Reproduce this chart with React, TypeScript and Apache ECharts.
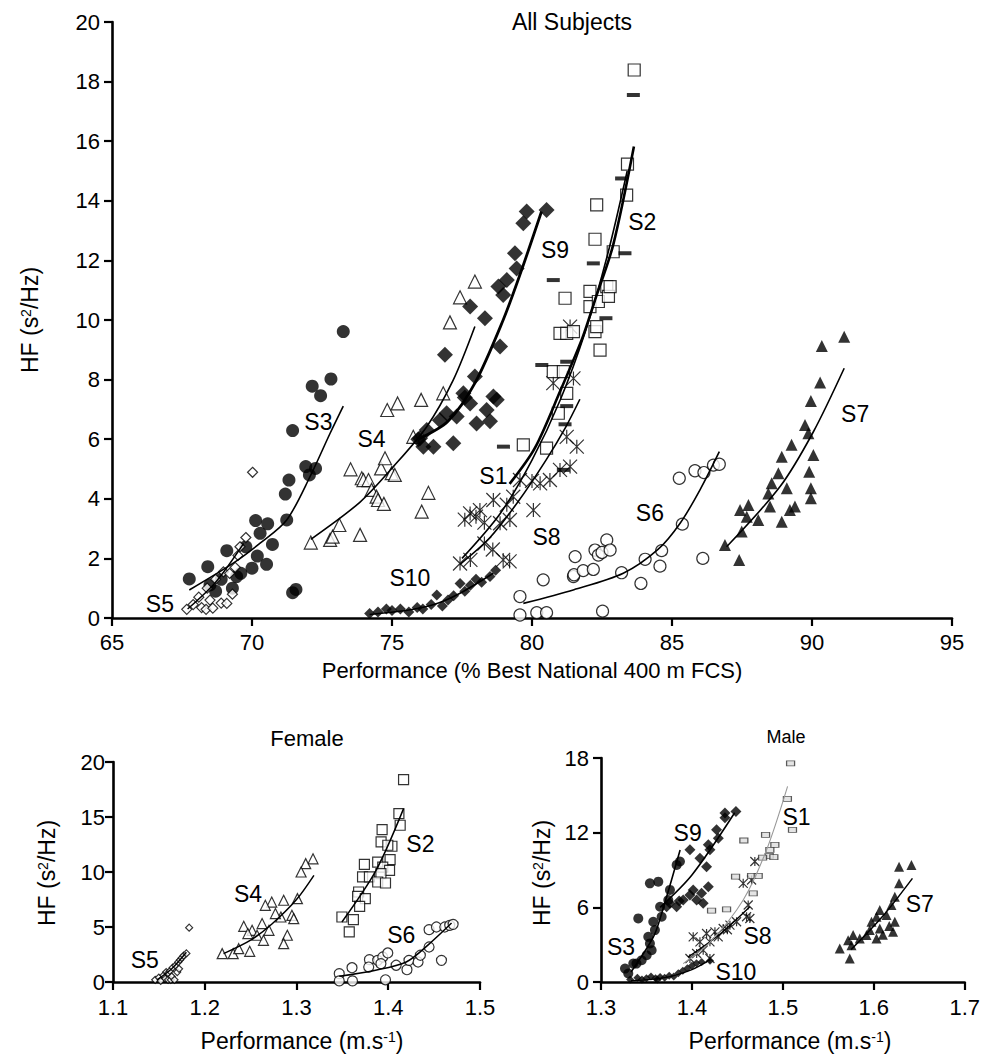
import React, { useEffect, useRef } from 'react';
import * as echarts from 'echarts';

const FONT = "'Liberation Sans', Arial, Helvetica, sans-serif";

// ---------------- All Subjects (x: % best national 400 m FCS, y: HF s2/Hz)
const ALL_S3 = [[67.76,1.31],[68.42,1.72],[68.5,1.11],[68.7,0.9],[68.9,1.3],[69.1,2.26],[69.3,1.0],[69.45,1.39],[69.6,1.5],[69.78,2.39],[70.0,1.67],[70.13,3.27],[70.19,2.08],[70.29,2.84],[70.52,1.8],[70.56,3.16],[70.73,2.47],[71.19,4.16],[71.24,3.29],[71.32,4.63],[71.45,6.29],[71.45,0.85],[71.57,0.96],[71.92,5.08],[72.05,4.8],[72.27,5.02],[72.15,7.78],[72.45,7.46],[72.82,8.02],[73.26,9.61]];
const ALL_S5 = [[67.67,0.29],[67.9,0.45],[68.1,0.7],[68.2,0.35],[68.36,0.29],[68.4,1.0],[68.5,0.6],[68.6,0.33],[68.7,1.3],[68.9,0.5],[68.98,1.55],[69.1,0.49],[69.2,1.5],[69.3,0.8],[69.4,1.7],[69.5,2.1],[69.57,2.39],[69.78,2.7],[70.02,4.89]];
const ALL_S4 = [[72.1,2.53],[72.79,2.62],[72.88,2.73],[73.12,3.12],[73.52,4.99],[73.86,2.79],[73.92,4.69],[73.98,4.63],[74.16,4.63],[74.27,4.3],[74.45,4.07],[74.5,3.96],[74.61,5.02],[74.71,3.83],[74.75,5.36],[74.83,6.98],[74.99,4.86],[75.1,4.8],[75.2,7.2],[75.76,6.08],[76.04,7.32],[76.06,3.57],[76.3,4.2],[76.83,7.54],[77.07,9.92],[77.43,10.76],[77.96,11.29]];
const ALL_S9 = [[75.94,6.0],[76.0,6.03],[76.12,5.75],[76.24,6.31],[76.48,5.75],[76.71,6.64],[76.89,8.83],[76.95,6.87],[77.19,5.86],[77.31,6.76],[77.55,7.54],[77.6,7.4],[77.79,7.2],[77.79,10.45],[77.96,8.1],[78.02,6.53],[78.32,10.06],[78.38,6.98],[78.5,6.6],[78.62,7.43],[78.74,7.32],[78.8,11.12],[78.86,9.11],[78.97,10.84],[79.1,11.34],[79.39,12.24],[79.45,11.73],[79.69,13.25],[79.81,13.64],[80.52,13.69]];
const ALL_S10 = [[74.2,0.15],[74.5,0.2],[74.8,0.3],[75.0,0.25],[75.3,0.3],[75.6,0.2],[75.9,0.35],[76.1,0.3],[76.4,0.45],[76.6,0.77],[76.8,0.4],[77.0,0.6],[77.2,0.75],[77.43,1.16],[77.6,0.9],[77.8,1.1],[78.0,1.3],[78.2,1.2],[78.5,1.39],[78.7,1.6]];
const ALL_S8 = [[77.43,1.83],[77.8,1.95],[78.97,1.95],[79.2,1.9],[77.6,3.3],[77.79,3.51],[78.0,3.4],[78.14,3.62],[78.3,3.2],[78.3,2.5],[78.6,2.3],[78.62,3.96],[78.86,3.18],[79.1,3.8],[79.21,3.29],[79.33,4.07],[79.57,4.63],[80.0,4.6],[80.05,3.62],[80.29,4.52],[80.64,4.63],[81.0,4.97],[81.36,5.08],[81.6,5.75],[81.24,6.08],[80.76,7.88],[81.48,8.04],[81.36,9.78]];
const ALL_S1 = [[83.62,17.55],[83.2,14.75],[83.32,12.24],[82.19,11.9],[80.76,11.34],[82.64,10.06],[80.35,8.49],[81.24,8.6],[81.24,7.11],[81.18,6.5],[78.98,5.75],[81.12,4.97]];
const ALL_S2 = [[79.69,5.81],[80.52,5.7],[80.94,6.87],[81.24,7.54],[80.76,8.27],[81.12,8.27],[81.0,9.55],[81.24,9.55],[81.48,9.61],[82.25,9.61],[82.43,8.99],[82.31,9.78],[81.18,10.73],[82.07,10.45],[82.07,10.96],[82.37,10.62],[82.67,11.12],[82.73,10.79],[82.79,11.12],[82.25,12.71],[82.9,12.29],[82.31,13.86],[83.38,14.19],[83.41,15.23],[83.65,18.39]];
const ALL_S6 = [[79.57,0.1],[79.57,0.72],[80.17,0.18],[80.52,0.18],[82.52,0.23],[80.4,1.28],[81.48,1.39],[81.5,1.45],[81.54,2.06],[81.83,1.59],[82.19,1.63],[82.25,2.28],[82.37,2.11],[82.5,2.2],[82.67,2.62],[82.79,2.28],[83.2,1.52],[83.89,1.16],[84.04,1.97],[84.57,1.74],[84.63,2.26],[85.37,3.15],[85.26,4.69],[85.82,4.94],[86.1,2.0],[86.14,4.88],[86.48,5.13],[86.69,5.16]];
const ALL_S7 = [[91.15,9.44],[90.35,9.13],[90.29,7.9],[89.96,7.28],[89.75,6.48],[89.87,6.2],[89.27,5.81],[88.92,5.41],[90.05,5.47],[89.9,4.91],[88.8,4.86],[88.56,4.52],[89.1,4.35],[88.44,4.18],[89.96,4.35],[89.96,4.02],[88.5,3.74],[89.39,3.74],[89.21,3.62],[87.43,3.62],[87.73,3.79],[87.67,3.4],[88.08,3.29],[88.92,3.23],[87.49,2.9],[86.89,2.45],[87.4,1.95]];

const ALL_FIT_S3 = [[67.76,0.94],[69.33,1.84],[70.29,2.51],[71.24,3.29],[72.07,4.74],[72.79,6.2],[73.26,7.11]];
const ALL_FIT_S5 = [[67.7,0.3],[68.7,1.2],[69.7,2.5]];
const ALL_FIT_S4 = [[72.1,2.64],[73.86,3.89],[75.05,5.08],[76.24,6.42],[77.19,7.99],[77.96,9.78]];
const ALL_FIT_S9 = [[75.94,6.0],[77.0,6.6],[77.96,7.88],[78.97,10.0],[79.6,11.6],[80.34,13.64]];
const ALL_FIT_S10 = [[74.2,0.12],[75.5,0.25],[76.5,0.45],[77.43,0.83],[78.62,1.5]];
const ALL_FIT_S8 = [[77.43,1.8],[78.5,2.7],[79.5,3.9],[80.5,5.3],[81.2,6.4],[81.71,7.34]];
const ALL_FIT_S1 = [[77.5,2.0],[78.86,3.5],[80.0,5.3],[81.0,7.3],[81.9,9.6],[82.7,12.2],[83.4,15.0]];
const ALL_FIT_S2 = [[79.2,4.5],[80.1,5.7],[81.0,7.6],[81.8,9.4],[82.25,10.67],[82.9,12.52],[83.64,15.82]];
const ALL_FIT_S6 = [[79.69,0.49],[81.5,0.95],[83.26,1.5],[84.5,2.3],[85.29,3.18],[86.0,4.3],[86.69,5.58]];
const ALL_FIT_S7 = [[86.95,2.39],[88.86,4.41],[90.05,6.25],[91.15,8.38]];

const ALL_LABELS = [[72.37,6.59,'S3'],[74.27,6.0,'S4'],[66.71,0.47,'S5'],[80.82,12.35,'S9'],[83.94,13.3,'S2'],[78.62,4.77,'S1'],[80.52,2.71,'S8'],[75.64,1.33,'S10'],[84.21,3.51,'S6'],[91.54,6.85,'S7']];

// ---------------- Female (x: m/s)
const F_S5 = [[1.146,0.2],[1.15,0.4],[1.152,0.1],[1.155,0.6],[1.157,0.3],[1.158,0.9],[1.16,0.8],[1.16,0.2],[1.162,1.0],[1.163,0.2],[1.164,0.5],[1.165,1.3],[1.167,0.2],[1.168,1.5],[1.17,0.9],[1.171,1.8],[1.172,1.2],[1.173,2.0],[1.175,2.2],[1.177,2.4],[1.18,2.6],[1.183,4.94]];
const F_S4 = [[1.318,11.2],[1.31,10.76],[1.305,10.0],[1.273,7.27],[1.266,6.97],[1.286,7.43],[1.301,7.58],[1.283,5.91],[1.295,6.06],[1.297,5.76],[1.277,6.22],[1.2425,5.06],[1.2516,4.7],[1.2625,5.31],[1.27,4.7],[1.257,4.25],[1.247,4.4],[1.264,3.79],[1.29,4.25],[1.286,3.49],[1.219,2.58],[1.231,2.58],[1.249,2.79],[1.237,3.03]];
const F_S2 = [[1.4167,18.4],[1.4116,15.3],[1.413,14.25],[1.3933,13.86],[1.3922,12.73],[1.404,12.34],[1.3995,12.43],[1.402,11.13],[1.374,10.7],[1.3885,10.9],[1.394,10.45],[1.4014,10.15],[1.372,9.55],[1.3795,9.55],[1.392,9.85],[1.3885,9.09],[1.397,9.0],[1.3677,8.18],[1.3666,7.79],[1.375,7.58],[1.3688,6.88],[1.3495,5.91],[1.362,5.67],[1.3575,4.55]];
const F_S6 = [[1.3466,0.76],[1.3466,0.1],[1.361,0.1],[1.397,0.2],[1.3605,1.3],[1.3795,2.03],[1.3787,1.36],[1.3885,1.97],[1.394,2.27],[1.3995,2.64],[1.392,1.67],[1.4086,1.52],[1.4204,1.12],[1.4226,1.97],[1.4325,1.82],[1.435,2.43],[1.458,1.97],[1.4445,3.18],[1.4445,4.76],[1.4525,5.0],[1.4616,5.0],[1.467,5.15],[1.4707,5.24]];

const F_FIT_S5 = [[1.148,0.2],[1.164,1.2],[1.18,2.7]];
const F_FIT_S4 = [[1.2205,2.58],[1.25,3.8],[1.2735,5.3],[1.3,7.5],[1.319,9.7]];
const F_FIT_S2 = [[1.3495,5.45],[1.3867,10.15],[1.4167,15.76]];
const F_FIT_S6 = [[1.3466,0.52],[1.385,1.05],[1.4196,1.82],[1.445,3.49],[1.469,5.36]];

const F_LABELS = [[1.1347,2.04,'S5'],[1.2472,7.97,'S4'],[1.435,12.52,'S2'],[1.4142,4.25,'S6']];

// ---------------- Male (x: m/s)
const M_S3 = [[1.3538,7.93],[1.363,8.06],[1.341,5.11],[1.3575,4.84],[1.3593,4.17],[1.3538,3.1],[1.3557,2.56],[1.3502,2.15],[1.3447,1.75],[1.3355,1.48],[1.3264,1.08],[1.33,0.68],[1.339,1.48],[1.352,3.63],[1.3667,5.24],[1.365,6.05],[1.374,6.59],[1.3758,7.4],[1.3832,9.41],[1.3868,9.68]];
const M_S9 = [[1.4484,13.71],[1.4363,13.58],[1.4363,13.2],[1.4271,12.23],[1.429,11.56],[1.418,11.02],[1.4198,10.62],[1.3978,10.62],[1.4088,9.95],[1.4161,9.27],[1.4014,7.4],[1.4106,7.13],[1.418,7.66],[1.4124,6.32],[1.3978,6.99],[1.3904,6.59],[1.386,6.5],[1.3758,6.32],[1.3832,6.05],[1.3722,6.05],[1.4052,6.59]];
const M_S10 = [[1.332,0.2],[1.34,0.35],[1.345,0.2],[1.35,0.3],[1.355,0.45],[1.36,0.3],[1.362,0.2],[1.365,0.4],[1.37,0.35],[1.375,0.5],[1.38,0.45],[1.385,0.7],[1.39,0.9],[1.395,1.1],[1.4,1.3],[1.405,1.5],[1.4107,1.61],[1.4199,1.7]];
const M_S8 = [[1.4692,9.68],[1.4656,8.2],[1.4564,7.93],[1.4619,6.19],[1.4601,5.24],[1.4637,5.1],[1.4491,4.84],[1.4418,4.57],[1.439,4.2],[1.4344,4.3],[1.4253,4.03],[1.4161,3.9],[1.4014,3.63],[1.4088,3.23],[1.4198,3.23],[1.4289,3.63],[1.4124,2.56],[1.4052,2.29],[1.4198,1.89],[1.3978,1.89]];
const M_S1 = [[1.5085,17.56],[1.505,14.71],[1.5106,12.23],[1.481,11.83],[1.4571,11.37],[1.4912,11.02],[1.4857,10.62],[1.485,10.13],[1.4901,10.03],[1.4777,10.0],[1.448,8.47],[1.4656,8.52],[1.4729,8.52],[1.4674,7.13],[1.4216,5.73],[1.4381,5.84]];
const M_S7 = [[1.6278,9.27],[1.6414,9.41],[1.6278,7.93],[1.6231,6.85],[1.6194,6.18],[1.6066,5.78],[1.614,5.38],[1.603,5.24],[1.5975,4.84],[1.6066,4.3],[1.6231,4.84],[1.6212,4.03],[1.5956,4.17],[1.592,3.77],[1.5846,3.5],[1.5773,3.77],[1.5718,3.36],[1.5755,2.96],[1.603,3.5],[1.61,3.8],[1.5626,2.69],[1.5736,1.89],[1.617,4.5]];

const M_FIT_S3 = [[1.333,0.8],[1.3575,3.6],[1.3667,5.5],[1.387,10.6]];
const M_FIT_S9 = [[1.365,6.0],[1.4,8.6],[1.447,13.6]];
const M_FIT_S10 = [[1.333,0.1],[1.37,0.35],[1.4,1.0],[1.42,1.8]];
const M_FIT_S8 = [[1.3956,2.0],[1.43,3.8],[1.4637,6.05]];
const M_FIT_S1 = [[1.3904,1.48],[1.42,3.2],[1.4564,6.59],[1.4821,10.62],[1.5052,15.72]];
const M_FIT_S7 = [[1.575,2.6],[1.61,5.3],[1.6425,8.33]];

const M_LABELS = [[1.3953,11.97,'S9'],[1.515,13.26,'S1'],[1.4722,3.69,'S8'],[1.322,2.82,'S3'],[1.4484,0.81,'S10'],[1.6505,6.27,'S7']];

// ---------------- helpers
const ASTERISK = 'path://M0 0L10 10M10 0L0 10M5 0L5 10';
const FILLED = { color: '#000' };
const OPEN = { color: '#fff', borderColor: '#000', borderWidth: 1.2 };
const STAR = { color: 'rgba(0,0,0,0)', borderColor: '#000', borderWidth: 1.2 };

function pts(gi: number, data: number[][], symbol: string, size: any, itemStyle: any) {
  return { type: 'scatter', xAxisIndex: gi, yAxisIndex: gi, data, symbol, symbolSize: size, itemStyle, silent: true, z: 2 };
}
function fit(gi: number, data: number[][], width: number, color = '#000') {
  return { type: 'line', xAxisIndex: gi, yAxisIndex: gi, data, smooth: 0.3, symbol: 'none', lineStyle: { color, width }, silent: true, z: 3 };
}
function labels(gi: number, items: any[]) {
  return {
    type: 'scatter', xAxisIndex: gi, yAxisIndex: gi, symbolSize: 1, silent: true, z: 5,
    itemStyle: { color: '#fff', opacity: 0 },
    data: items.map(([x, y, n]) => ({ value: [x, y], name: n })),
    label: {
      show: true, position: 'inside', formatter: '{b}', fontSize: 23, color: '#000',
      fontFamily: FONT, opacity: 1, textBorderWidth: 0,
    },
  };
}
function xAx(gi: number, min: number, max: number, interval: number, dec: number, margin: number) {
  return {
    type: 'value', gridIndex: gi, min, max, interval,
    axisLine: { show: true, onZero: false, lineStyle: { color: '#000', width: 2.6 } },
    axisTick: { show: true, length: 8, lineStyle: { color: '#000', width: 2.2 } },
    axisLabel: { fontSize: 22, color: '#000', fontFamily: FONT, margin, formatter: (v: number) => v.toFixed(dec) },
    splitLine: { show: false },
  };
}
function yAx(gi: number, min: number, max: number, interval: number, margin: number) {
  return {
    type: 'value', gridIndex: gi, min, max, interval,
    axisLine: { show: true, onZero: false, lineStyle: { color: '#000', width: 2.6 } },
    axisTick: { show: true, length: 8, lineStyle: { color: '#000', width: 2.2 } },
    axisLabel: { fontSize: 22, color: '#000', fontFamily: FONT, margin },
    splitLine: { show: false },
  };
}
function txt(x: number, y: number, text: string, size: number, rot = 0) {
  return {
    type: 'text', x, y, rotation: rot, silent: true,
    style: {
      text, align: 'center', verticalAlign: 'middle', fill: '#000',
      rich: {
        a: { fontSize: size, fontFamily: FONT, fill: '#000' },
        b: { fontSize: Math.round(size * 0.62), fontFamily: FONT, fill: '#000', verticalAlign: 'top' },
      },
      fontSize: size, fontFamily: FONT,
    },
  };
}

export default function App() {
  const ref = useRef<HTMLDivElement>(null);
  useEffect(() => {
    if (!ref.current) return;
    const chart = echarts.init(ref.current, null, { renderer: 'svg' });
    const option: any = {
      animation: false,
      backgroundColor: '#fff',
      grid: [
        { left: 112, top: 22, width: 840, height: 596 },
        { left: 113, top: 762, width: 367, height: 220 },
        { left: 601, top: 758, width: 364, height: 224 },
      ],
      xAxis: [xAx(0, 65, 95, 5, 0, 13), xAx(1, 1.1, 1.5, 0.1, 1, 14), xAx(2, 1.3, 1.7, 0.1, 1, 14)],
      yAxis: [yAx(0, 0, 20, 2, 12), yAx(1, 0, 20, 5, 8), yAx(2, 0, 18, 6, 12)],
      series: [
        pts(0, ALL_S3, 'circle', 13, FILLED),
        pts(0, ALL_S5, 'diamond', 10, OPEN),
        pts(0, ALL_S4, 'triangle', 13, OPEN),
        pts(0, ALL_S9, 'diamond', 16, FILLED),
        pts(0, ALL_S10, 'diamond', 11, FILLED),
        pts(0, ALL_S8, ASTERISK, 14, STAR),
        pts(0, ALL_S2, 'rect', 12, OPEN),
        pts(0, ALL_S1, 'rect', [13, 4], FILLED),
        pts(0, ALL_S6, 'circle', 12, OPEN),
        pts(0, ALL_S7, 'triangle', 12, FILLED),
        fit(0, ALL_FIT_S3, 1.6), fit(0, ALL_FIT_S5, 1.4), fit(0, ALL_FIT_S4, 1.6),
        fit(0, ALL_FIT_S9, 2.8), fit(0, ALL_FIT_S10, 1.6), fit(0, ALL_FIT_S8, 1.6),
        fit(0, ALL_FIT_S1, 1.6), fit(0, ALL_FIT_S2, 2.6), fit(0, ALL_FIT_S6, 1.6), fit(0, ALL_FIT_S7, 1.6),
        labels(0, ALL_LABELS),

        pts(1, F_S5, 'diamond', 7, OPEN),
        pts(1, F_S4, 'triangle', 10, OPEN),
        pts(1, F_S2, 'rect', 10, OPEN),
        pts(1, F_S6, 'circle', 10, OPEN),
        fit(1, F_FIT_S5, 1.4), fit(1, F_FIT_S4, 1.5), fit(1, F_FIT_S2, 1.5), fit(1, F_FIT_S6, 1.5),
        labels(1, F_LABELS),

        pts(2, M_S3, 'circle', 10, FILLED),
        pts(2, M_S9, 'diamond', 11, FILLED),
        pts(2, M_S10, 'diamond', 8, FILLED),
        pts(2, M_S8, ASTERISK, 9, STAR),
        pts(2, M_S1, 'rect', [8, 5], { color: '#ddd', borderColor: '#333', borderWidth: 1 }),
        pts(2, M_S7, 'triangle', 10, FILLED),
        fit(2, M_FIT_S3, 1.6), fit(2, M_FIT_S9, 1.6), fit(2, M_FIT_S10, 1.4), fit(2, M_FIT_S8, 1.4),
        fit(2, M_FIT_S1, 1.1, '#999'), fit(2, M_FIT_S7, 1.5),
        labels(2, M_LABELS),
      ],
      graphic: [
        txt(572, 22, 'All Subjects', 23),
        txt(532, 670, 'Performance (% Best National 400 m FCS)', 22),
        txt(30, 320, '{a|HF (s}{b|2}{a|/Hz)}', 23, Math.PI / 2),
        txt(307, 738, 'Female', 22),
        txt(302, 1041, '{a|Performance (m.s}{b|-1}{a|)}', 23),
        txt(47, 873, '{a|HF (s}{b|2}{a|/Hz)}', 23, Math.PI / 2),
        txt(786, 737, 'Male', 18),
        txt(790, 1041, '{a|Performance (m.s}{b|-1}{a|)}', 23),
        txt(542, 873, '{a|HF (s}{b|2}{a|/Hz)}', 23, Math.PI / 2),
      ],
    };
    chart.setOption(option);
    return () => chart.dispose();
  }, []);
  return <div ref={ref} style={{ position: 'fixed', left: 0, top: 0, width: 983, height: 1057, background: '#fff' }} />;
}
